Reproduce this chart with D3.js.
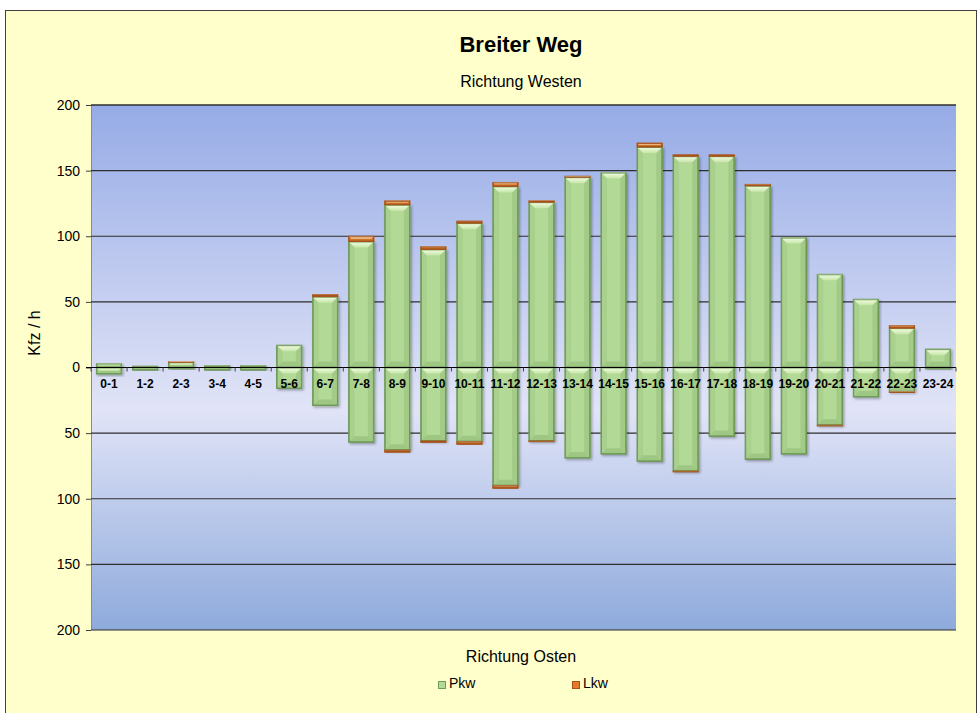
<!DOCTYPE html>
<html>
<head>
<meta charset="utf-8">
<script src="https://cdn.jsdelivr.net/npm/d3@7"></script>
<style>
  body { margin: 0; background: #fff; }
  svg { display: block; font-family: "Liberation Sans", Arial, sans-serif; }
</style>
</head>
<body>
<div id="chart"></div>
<script>
// hours of the day
var hours = ["0-1","1-2","2-3","3-4","4-5","5-6","6-7","7-8","8-9","9-10","10-11","11-12",
	"12-13","13-14","14-15","15-16","16-17","17-18","18-19","19-20","20-21","21-22","22-23","23-24"]

// Richtung Westen (drawn upwards)
var westPkw = [3, 1, 4, 1.5, 1.5, 17, 54, 96, 124, 90, 110, 138, 126, 145, 148.5, 168, 161, 161, 138.5, 99, 71, 52, 30, 14]
var westLkw = [0, 0, 0.5, 0, 0, 0, 1.5, 4, 3, 2, 1.5, 3, 1, 0.7, 0, 3, 1, 1, 1, 0, 0, 0, 2, 0]

// Richtung Osten (drawn downwards)
var eastPkw = [5, 2, 1, 2, 2, 16, 29, 57, 63, 56, 56.5, 90, 56, 69, 66, 71.5, 79, 52.5, 70, 66, 44, 22.5, 18.5, 1]
var eastLkw = [0, 0, 0, 0, 0, 0, 0, 0, 1.5, 1, 2, 2, 0.5, 0, 0, 0, 0.5, 0, 0, 0, 0.5, 0, 0.5, 0]

var yTicks = [-200, -150, -100, -50, 0, 50, 100, 150, 200]

var legendItems = [{name: "Pkw", fill: "#b2d995", stroke: "#6f9a5a"}, {name: "Lkw", fill: "#e8772a", stroke: "#a9531b"}]

var width = 978, height = 713
var plot = {left: 91, right: 956, top: 105, bottom: 630}

var svg = d3.select("#chart").append("svg")
	.attr("width", width)
	.attr("height", height)

var defs = svg.append("defs")

var bgGrad = defs.append("linearGradient").attr("id", "bgGrad")
	.attr("x1", 0).attr("y1", 0).attr("x2", 0).attr("y2", 1)
bgGrad.append("stop").attr("offset", "0%").attr("stop-color", "#96abe6")
bgGrad.append("stop").attr("offset", "58%").attr("stop-color", "#e1e4f7")
bgGrad.append("stop").attr("offset", "100%").attr("stop-color", "#8eaadc")

var hiGrad = defs.append("linearGradient").attr("id", "hiGrad")
	.attr("x1", 0).attr("y1", 0).attr("x2", 0).attr("y2", 1)
hiGrad.append("stop").attr("offset", "0%").attr("stop-color", "#fbffec").attr("stop-opacity", 0.95)
hiGrad.append("stop").attr("offset", "100%").attr("stop-color", "#f0ffd8").attr("stop-opacity", 0.35)

var shadow = defs.append("filter").attr("id", "shadow")
	.attr("x", "-20%").attr("y", "-20%").attr("width", "150%").attr("height", "150%")
shadow.append("feDropShadow").attr("dx", 1.5).attr("dy", 1.5).attr("stdDeviation", 1.2)
	.attr("flood-color", "#000").attr("flood-opacity", 0.3)

// chart area
svg.append("rect")
	.attr("x", 5.5).attr("y", 10.5)
	.attr("width", 971).attr("height", 720)
	.attr("fill", "#ffffcc")
	.attr("stroke", "#404040")
	.attr("stroke-width", 1)

var x = d3.scaleBand()
	.domain(hours)
	.range([plot.left, plot.right])
	.paddingInner(0.3)
	.paddingOuter(0.15)

var y = d3.scaleLinear()
	.domain([-200, 200])
	.range([plot.bottom, plot.top])

svg.append("rect")
	.attr("x", plot.left).attr("y", plot.top)
	.attr("width", plot.right - plot.left).attr("height", plot.bottom - plot.top)
	.attr("fill", "url(#bgGrad)")

svg.append("line")
	.attr("x1", plot.left + 0.5).attr("x2", plot.left + 0.5)
	.attr("y1", plot.top).attr("y2", plot.bottom)
	.attr("stroke", "#8a8a8a")

// grid lines
svg.append("g").selectAll("line")
	.data(yTicks.filter(function(d) { return d != 0 }))
	.enter().append("line")
	.attr("x1", plot.left).attr("x2", plot.right)
	.attr("y1", function(d) { return y(d) }).attr("y2", function(d) { return y(d) })
	.attr("stroke", "#2e2e2e")
	.attr("stroke-width", 1.1)

var yAxis = d3.axisLeft(y)
	.tickValues(yTicks)
	.tickSize(5)
	.tickPadding(6)
	.tickFormat(function(d) { return Math.abs(d) })

var yg = svg.append("g")
	.attr("transform", "translate(" + plot.left + ",0)")
	.call(yAxis)
yg.select(".domain").remove()
yg.selectAll(".tick line").attr("stroke", "#404040")
yg.selectAll(".tick text")
	.attr("font-size", 14)
	.attr("font-family", "Liberation Sans, Arial, sans-serif")
	.attr("fill", "#000")

// build stacked segments
var segs = []
hours.forEach(function(h, i) {
	segs.push({h: h, y0: 0, y1: westPkw[i], kind: 0})
	segs.push({h: h, y0: westPkw[i], y1: westPkw[i] + westLkw[i], kind: 1})
	segs.push({h: h, y0: 0, y1: -eastPkw[i], kind: 0})
	segs.push({h: h, y0: -eastPkw[i], y1: -(eastPkw[i] + eastLkw[i]), kind: 1})
})
segs = segs.filter(function(d) { return d.y0 != d.y1 })

var bars = svg.append("g")

var barG = bars.selectAll("g")
	.data(segs)
	.enter().append("g")

barG.each(function(d) {
	var g = d3.select(this)
	var bx = x(d.h), bw = x.bandwidth()
	var top = y(Math.max(d.y0, d.y1)), bot = y(Math.min(d.y0, d.y1))
	var bh = bot - top
	var c = legendItems[d.kind]
	g.append("rect")
		.attr("x", bx).attr("y", top)
		.attr("width", bw).attr("height", bh)
		.attr("fill", c.fill)
		.attr("stroke", c.stroke)
		.attr("stroke-width", 1)
		.attr("filter", d.kind == 0 ? "url(#shadow)" : null)
	var b = Math.min(6, bh / 2)
	// top bevel (light)
	g.append("path")
		.attr("d", "M" + bx + "," + top + "L" + (bx + bw) + "," + top +
			"L" + (bx + bw - b) + "," + (top + b) + "L" + (bx + b) + "," + (top + b) + "Z")
		.attr("fill", "url(#hiGrad)")
	// bottom bevel (dark)
	g.append("path")
		.attr("d", "M" + bx + "," + bot + "L" + (bx + bw) + "," + bot +
			"L" + (bx + bw - b) + "," + (bot - b) + "L" + (bx + b) + "," + (bot - b) + "Z")
		.attr("fill", "#3d6a2a")
		.attr("fill-opacity", 0.16)
	// side bevels
	g.append("path")
		.attr("d", "M" + (bx + bw) + "," + top + "L" + (bx + bw) + "," + bot +
			"L" + (bx + bw - b) + "," + (bot - b) + "L" + (bx + bw - b) + "," + (top + b) + "Z")
		.attr("fill", "#3d6a2a")
		.attr("fill-opacity", 0.12)
	g.append("path")
		.attr("d", "M" + bx + "," + top + "L" + bx + "," + bot +
			"L" + (bx + b) + "," + (bot - b) + "L" + (bx + b) + "," + (top + b) + "Z")
		.attr("fill", "#3d6a2a")
		.attr("fill-opacity", 0.08)
	g.append("rect")
		.attr("x", bx + 0.5).attr("y", top + 0.5)
		.attr("width", bw - 1).attr("height", Math.max(0, bh - 1))
		.attr("fill", "none")
		.attr("stroke", c.stroke)
		.attr("stroke-width", 1)
})

// zero axis with category ticks
svg.append("line")
	.attr("x1", plot.left - 5).attr("x2", plot.right)
	.attr("y1", y(0)).attr("y2", y(0))
	.attr("stroke", "#000")
	.attr("stroke-width", 1.2)

var step = x.step()
svg.append("g").selectAll("line")
	.data(d3.range(hours.length + 1))
	.enter().append("line")
	.attr("x1", function(i) { return plot.left + i * step })
	.attr("x2", function(i) { return plot.left + i * step })
	.attr("y1", y(0)).attr("y2", y(0) + 4)
	.attr("stroke", "#404040")

svg.append("g").selectAll("text")
	.data(hours)
	.enter().append("text")
	.attr("x", function(d) { return x(d) + x.bandwidth() / 2 })
	.attr("y", y(0) + 20)
	.attr("text-anchor", "middle")
	.attr("font-size", 12)
	.attr("font-weight", "bold")
	.attr("fill", "#000")
	.text(function(d) { return d })

// plot frame top
svg.append("line")
	.attr("x1", plot.left).attr("x2", plot.right)
	.attr("y1", plot.top).attr("y2", plot.top)
	.attr("stroke", "#2e2e2e")

// titles
var cx = 521
svg.append("text")
	.attr("x", cx).attr("y", 52)
	.attr("text-anchor", "middle")
	.attr("font-size", 22).attr("font-weight", "bold")
	.text("Breiter Weg")

svg.append("text")
	.attr("x", cx).attr("y", 87)
	.attr("text-anchor", "middle")
	.attr("font-size", 16)
	.text("Richtung Westen")

svg.append("text")
	.attr("x", cx).attr("y", 662)
	.attr("text-anchor", "middle")
	.attr("font-size", 16)
	.text("Richtung Osten")

svg.append("text")
	.attr("transform", "translate(40,333) rotate(-90)")
	.attr("text-anchor", "middle")
	.attr("font-size", 16)
	.text("Kfz / h")

// legend
var legend = svg.append("g").selectAll("g")
	.data(legendItems)
	.enter().append("g")
	.attr("transform", function(d, i) { return "translate(" + (438 + i * 134) + ",681)" })

legend.append("rect")
	.attr("x", 0.5).attr("y", 0.5)
	.attr("width", 7).attr("height", 7)
	.attr("fill", function(d) { return d.fill })
	.attr("stroke", function(d) { return d.stroke })

legend.append("text")
	.attr("x", 11).attr("y", 7)
	.attr("font-size", 14)
	.text(function(d) { return d.name })
</script>
</body>
</html>
